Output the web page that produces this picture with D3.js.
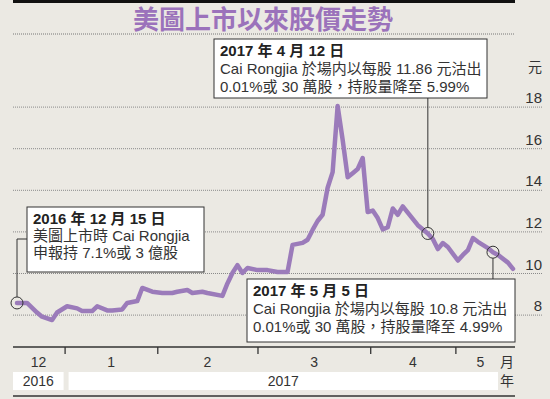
<!DOCTYPE html>
<html>
<head>
<meta charset="utf-8">
<script src="https://cdn.jsdelivr.net/npm/d3@7"></script>
<style>
  body { margin: 0; background: #ebe9e3; }
  svg text { font-family: "Liberation Sans", Arial, "Noto Sans CJK TC", sans-serif; }
</style>
</head>
<body>
<div id="chart"></div>
<script>
// Meitu share price since listing

// Data
// trading-day index since listing (2016-12-15 = 0)
var days = [0, 2, 4, 5, 7, 8, 10, 12, 13, 15, 16, 18, 19, 21, 22, 24, 25, 27, 29, 31,
  32, 34, 35, 37, 38, 41, 42, 43, 44, 45, 46, 48, 50, 52, 54, 55, 57, 58, 59, 60,
  61, 62, 63, 64, 65, 66, 67, 68, 69, 70, 71, 72, 73, 74, 75, 76, 77, 78, 80, 82,
  83, 84, 85, 86, 88, 89, 90, 91, 92, 94, 95, 96, 98, 99];
// closing price (HK$)
var prices = [8.56, 8.56, 8.1, 7.9, 7.74, 8.1, 8.4, 8.3, 8.17, 8.17, 8.4, 8.2, 8.2, 8.25, 8.56, 8.65, 9.28, 9.1, 9.04, 9.04,
  9.1, 9.18, 9.04, 9.1, 9.04, 8.9, 9.5, 10.0, 10.38, 10.0, 10.24, 10.14, 10.14, 10.05, 10.05, 11.35, 11.45, 11.6, 12.07, 12.5,
  12.8, 14.1, 14.85, 18.03, 16.4, 14.6, 14.8, 15.0, 15.53, 12.93, 13.0, 12.64, 12.1, 12.2, 13.1, 12.8, 13.2, 12.9, 12.3, 11.9,
  11.63, 11.15, 11.44, 11.25, 10.6, 10.87, 11.1, 11.68, 11.5, 11.2, 11.0, 10.87, 10.5, 10.2];

var yTicks = [8, 10, 12, 14, 16, 18];

// month boundaries (in trading days) and label centres
var monthTicks = [9.5, 28, 48, 70.5, 87.5];
var monthLabels = ["12", "1", "2", "3", "4", "5"];
var monthLabelDays = [4.3, 18.8, 38, 59.3, 79, 92.5];

var yearLabels = ["2016", "2017"];

// annotations
var noteDays = [0, 82, 95];
var noteTitles = ["2016 年 12 月 15 日", "2017 年 4 月 12 日", "2017 年 5 月 5 日"];
var noteLines = [
  ["美圖上市時 Cai Rongjia", "申報持 7.1%或 3 億股"],
  ["Cai Rongjia 於場内以每股 11.86 元沽出", "0.01%或 30 萬股，持股量降至 5.99%"],
  ["Cai Rongjia 於場内以每股 10.8 元沽出", "0.01%或 30 萬股，持股量降至 4.99%"]
];

// Layout
var width = 550;
var height = 399;
var left = 13;
var right = 515;
var purple = "#9b7bba";

var svg = d3
  .select("#chart")
  .append("svg")
  .attr("width", width)
  .attr("height", height);

svg.append("rect")
  .attr("width", width)
  .attr("height", height)
  .attr("fill", "#ebe9e3");

var xScale = d3.scaleLinear().domain([0, 99]).range([17, 513]);
var yScale = d3.scaleLinear().domain([8, 18]).range([314.6, 106.6]);

// Title
svg.append("rect")
  .attr("x", left).attr("y", 0)
  .attr("width", right - left).attr("height", 3)
  .attr("fill", "#111");

svg.append("text")
  .attr("x", 263)
  .attr("y", 29)
  .attr("text-anchor", "middle")
  .attr("font-size", 26)
  .attr("font-weight", "bold")
  .attr("fill", "#9b72bb")
  .text("美圖上市以來股價走勢");

svg.append("line")
  .attr("x1", left).attr("x2", right)
  .attr("y1", 34).attr("y2", 34)
  .attr("stroke", "#777")
  .attr("stroke-dasharray", "1,1");

// Y grid + labels on the right
var yAxis = d3.axisRight(yScale)
  .tickValues(yTicks)
  .tickSize(-(542 - left))
  .tickFormat(d3.format("d"));

var yG = svg.append("g")
  .attr("class", "yAxis")
  .attr("transform", "translate(542,0)")
  .call(yAxis);

yG.select(".domain").remove();
yG.selectAll(".tick line")
  .attr("stroke", "#8a8a8a")
  .attr("stroke-dasharray", "1,1");
yG.selectAll(".tick text")
  .attr("x", 0)
  .attr("dy", -4)
  .attr("text-anchor", "end")
  .attr("font-size", 15)
  .attr("fill", "#333");

svg.append("text")
  .attr("x", 535)
  .attr("y", 72)
  .attr("text-anchor", "middle")
  .attr("font-size", 14)
  .attr("fill", "#333")
  .text("元");

// X axis
var axisY = 347;

var xAxis = d3.axisBottom(xScale)
  .tickValues(monthTicks)
  .tickSize(7)
  .tickFormat("");

var xG = svg.append("g")
  .attr("class", "xAxis")
  .attr("transform", "translate(0," + axisY + ")")
  .call(xAxis);

xG.select(".domain").remove();
xG.selectAll(".tick line").attr("stroke", "#333").attr("stroke-width", 1.3);

svg.append("line")
  .attr("x1", left).attr("x2", right)
  .attr("y1", axisY).attr("y2", axisY)
  .attr("stroke", "#333")
  .attr("stroke-width", 1.5);

svg.selectAll(".monthText")
  .data(monthLabels)
  .enter()
  .append("text")
  .attr("class", "monthText")
  .attr("x", function(d, i) { return xScale(monthLabelDays[i]); })
  .attr("y", 367)
  .attr("text-anchor", "middle")
  .attr("font-size", 14)
  .attr("fill", "#333")
  .text(function(d) { return d; });

svg.append("text")
  .attr("x", 507).attr("y", 367)
  .attr("text-anchor", "middle")
  .attr("font-size", 14)
  .attr("fill", "#333")
  .text("月");

// Year row
var yearBoxes = [
  [left, xScale(monthTicks[0]) - 1],
  [xScale(monthTicks[0]) + 4, 498]
];

svg.selectAll(".yearBox")
  .data(yearLabels)
  .enter()
  .append("rect")
  .attr("class", "yearBox")
  .attr("x", function(d, i) { return yearBoxes[i][0]; })
  .attr("y", 372)
  .attr("width", function(d, i) { return yearBoxes[i][1] - yearBoxes[i][0]; })
  .attr("height", 18)
  .attr("fill", "#fff");

svg.selectAll(".yearText")
  .data(yearLabels)
  .enter()
  .append("text")
  .attr("class", "yearText")
  .attr("x", function(d, i) { return (yearBoxes[i][0] + yearBoxes[i][1]) / 2; })
  .attr("y", 386)
  .attr("text-anchor", "middle")
  .attr("font-size", 14)
  .attr("fill", "#333")
  .text(function(d) { return d; });

svg.append("text")
  .attr("x", 507).attr("y", 386)
  .attr("text-anchor", "middle")
  .attr("font-size", 14)
  .attr("fill", "#333")
  .text("年");

svg.append("line")
  .attr("x1", left).attr("x2", right)
  .attr("y1", 396).attr("y2", 396)
  .attr("stroke", "#333")
  .attr("stroke-width", 1.3);

// Price line
var line = d3.line()
  .x(function(d, i) { return xScale(days[i]); })
  .y(function(d) { return yScale(d); });

svg.append("path")
  .datum(prices)
  .attr("d", line)
  .attr("fill", "none")
  .attr("stroke", purple)
  .attr("stroke-width", 4.5)
  .attr("stroke-linejoin", "round")
  .attr("stroke-linecap", "round");

// Annotations
function priceAt(day) {
  return prices[days.indexOf(day)];
}

// box layout: x, y, width, height, line gap
var boxes = [
  { x: 27, y: 207, w: 177, h: 65, gap: 17 },
  { x: 214, y: 39, w: 273, h: 59, gap: 18 },
  { x: 247, y: 279, w: 268, h: 63, gap: 18 }
];
var r = 6;

noteDays.forEach(function(day, i) {
  var px = xScale(day);
  var py = yScale(priceAt(day));
  var b = boxes[i];

  // connector
  var path;
  if (i === 0) {
    path = "M" + px + "," + (py - r) + "V" + (b.y + 32) + "H" + b.x;
  }
  else if (i === 1) {
    path = "M" + px + "," + (py - r) + "V" + (b.y + b.h);
  }
  else {
    path = "M" + px + "," + (py + r) + "V" + b.y;
  }
  svg.append("path")
    .attr("d", path)
    .attr("fill", "none")
    .attr("stroke", "#333")
    .attr("stroke-width", 1);

  svg.append("circle")
    .attr("cx", px)
    .attr("cy", py)
    .attr("r", r)
    .attr("fill", "none")
    .attr("stroke", "#333")
    .attr("stroke-width", 1);

  svg.append("rect")
    .attr("x", b.x)
    .attr("y", b.y)
    .attr("width", b.w)
    .attr("height", b.h)
    .attr("fill", "#fff")
    .attr("stroke", "#333")
    .attr("stroke-width", 1);

  var tx = b.x + 6;
  var ty = b.y + 17;

  svg.append("text")
    .attr("x", tx)
    .attr("y", ty)
    .attr("font-size", 15)
    .attr("font-weight", "bold")
    .attr("fill", "#222")
    .text(noteTitles[i]);

  noteLines[i].forEach(function(t, j) {
    svg.append("text")
      .attr("x", tx)
      .attr("y", ty + b.gap * (j + 1))
      .attr("font-size", 15)
      .attr("fill", "#333")
      .text(t);
  });
});
</script>
</body>
</html>
